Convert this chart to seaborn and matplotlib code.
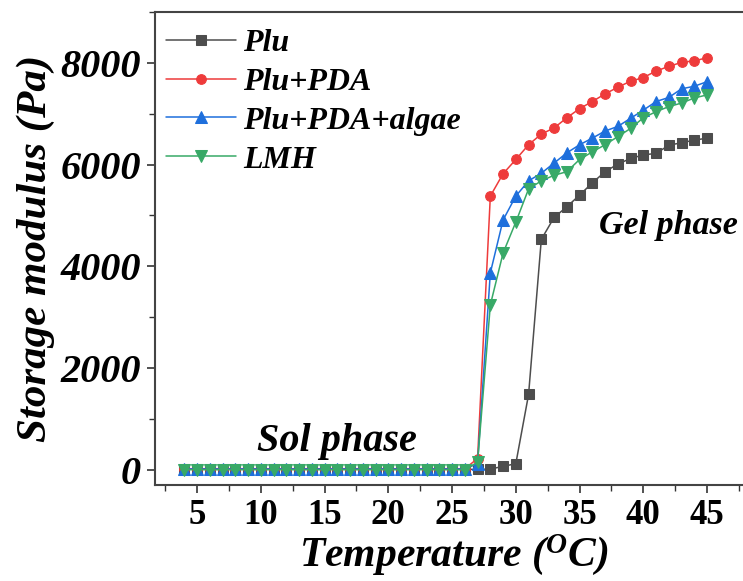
import matplotlib
matplotlib.use("Agg")
import matplotlib.pyplot as plt
import seaborn as sns
import numpy as np
import pandas as pd
from matplotlib.ticker import MultipleLocator

temperature = list(range(4, 46))
plu = [10]*23 + [5, 15, 65, 120, 1480, 4530, 4960, 5170, 5400, 5640, 5860, 6010, 6120, 6190, 6220, 6380, 6430, 6480, 6520]
plu_pda = [20]*23 + [220, 5380, 5820, 6100, 6390, 6600, 6720, 6920, 7100, 7240, 7390, 7520, 7640, 7710, 7840, 7930, 8010, 8040, 8100]
plu_pda_algae = [15]*23 + [120, 3870, 4910, 5380, 5680, 5830, 6030, 6230, 6390, 6520, 6660, 6750, 6910, 7070, 7240, 7320, 7490, 7540, 7630]
lmh = [0]*23 + [150, 3240, 4260, 4870, 5520, 5680, 5790, 5860, 6100, 6250, 6390, 6550, 6710, 6920, 7040, 7140, 7210, 7310, 7370]

series_names = ["Plu", "Plu+PDA", "Plu+PDA+algae", "LMH"]
colors = ["#4d4d4d", "#ee3b3b", "#1e6fdc", "#38a967"]
markers = ["s", "o", "^", "v"]

df = pd.DataFrame({
    "T": temperature * 4,
    "G": plu + plu_pda + plu_pda_algae + lmh,
    "Sample": sum([[n]*len(temperature) for n in series_names], []),
})

sns.set_style("ticks")
plt.rcParams['font.family'] = ['Liberation Serif', 'DejaVu Serif']
plt.rcParams['text.color'] = 'black'
plt.rcParams['axes.labelcolor'] = 'black'
plt.rcParams['xtick.color'] = 'black'
plt.rcParams['ytick.color'] = 'black'
plt.rcParams['mathtext.fontset'] = 'custom'
plt.rcParams['mathtext.it'] = 'Liberation Serif:italic:bold'
plt.rcParams['mathtext.rm'] = 'Liberation Serif:italic:bold'

fig = plt.figure(figsize=(7.43, 5.81), dpi=100)
ax = fig.add_axes([155/743, 1-485/581, (48.5-1.7)*12.75/743, (485-12)/581])

for name, c, m in zip(series_names, colors, markers):
    sub = df[df["Sample"] == name]
    sns.lineplot(data=sub, x="T", y="G", ax=ax, color=c, marker=m, markersize=8.5 if m in "^v" else 7,
                 markeredgecolor=c, linewidth=1.1, label=name, estimator=None)

ax.set_xlim(1.7, 48.5)
ax.set_ylim(-300, 9000)
ax.xaxis.set_major_locator(MultipleLocator(5))
ax.xaxis.set_minor_locator(MultipleLocator(2.5))
ax.yaxis.set_major_locator(MultipleLocator(2000))
ax.yaxis.set_minor_locator(MultipleLocator(1000))
ax.tick_params(axis='both', which='major', direction='out', length=6, width=1.2, color='#333333', pad=4)
ax.tick_params(axis='both', which='minor', direction='out', length=4, width=1.0, color='#333333')
for s in ax.spines.values():
    s.set_linewidth(1.5)
    s.set_color('#444444')

for lab in ax.get_yticklabels():
    lab.set_fontsize(29)
    lab.set_fontweight('bold')
    lab.set_fontstyle('italic')
    lab.set_color('black')
for lab in ax.get_xticklabels():
    lab.set_fontsize(25)
    lab.set_fontweight('bold')
    lab.set_color('black')

ax.set_xlabel("Temperature ($^{O}$C)", fontsize=30, fontweight='bold', fontstyle='italic', labelpad=0, color='black')
ax.set_ylabel("Storage modulus (Pa)", fontsize=31, fontweight='bold', fontstyle='italic', labelpad=4, color='black')

ax.text(16, 560, "Sol phase", fontsize=29, fontweight='bold', fontstyle='italic', ha='center', va='center', color='black')
ax.text(42.0, 4810, "Gel phase", fontsize=24.5, fontweight='bold', fontstyle='italic', ha='center', va='center', color='black')

leg = ax.legend(loc='upper left', frameon=False, fontsize=23, handlelength=2.2, handletextpad=0.2,
                labelspacing=0.3, borderaxespad=0.0, borderpad=0.35, bbox_to_anchor=(0.0, 0.989))
for t in leg.get_texts():
    t.set_fontweight('bold')
    t.set_fontstyle('italic')
    t.set_color('black')

fig.savefig("out.png", dpi=100)
